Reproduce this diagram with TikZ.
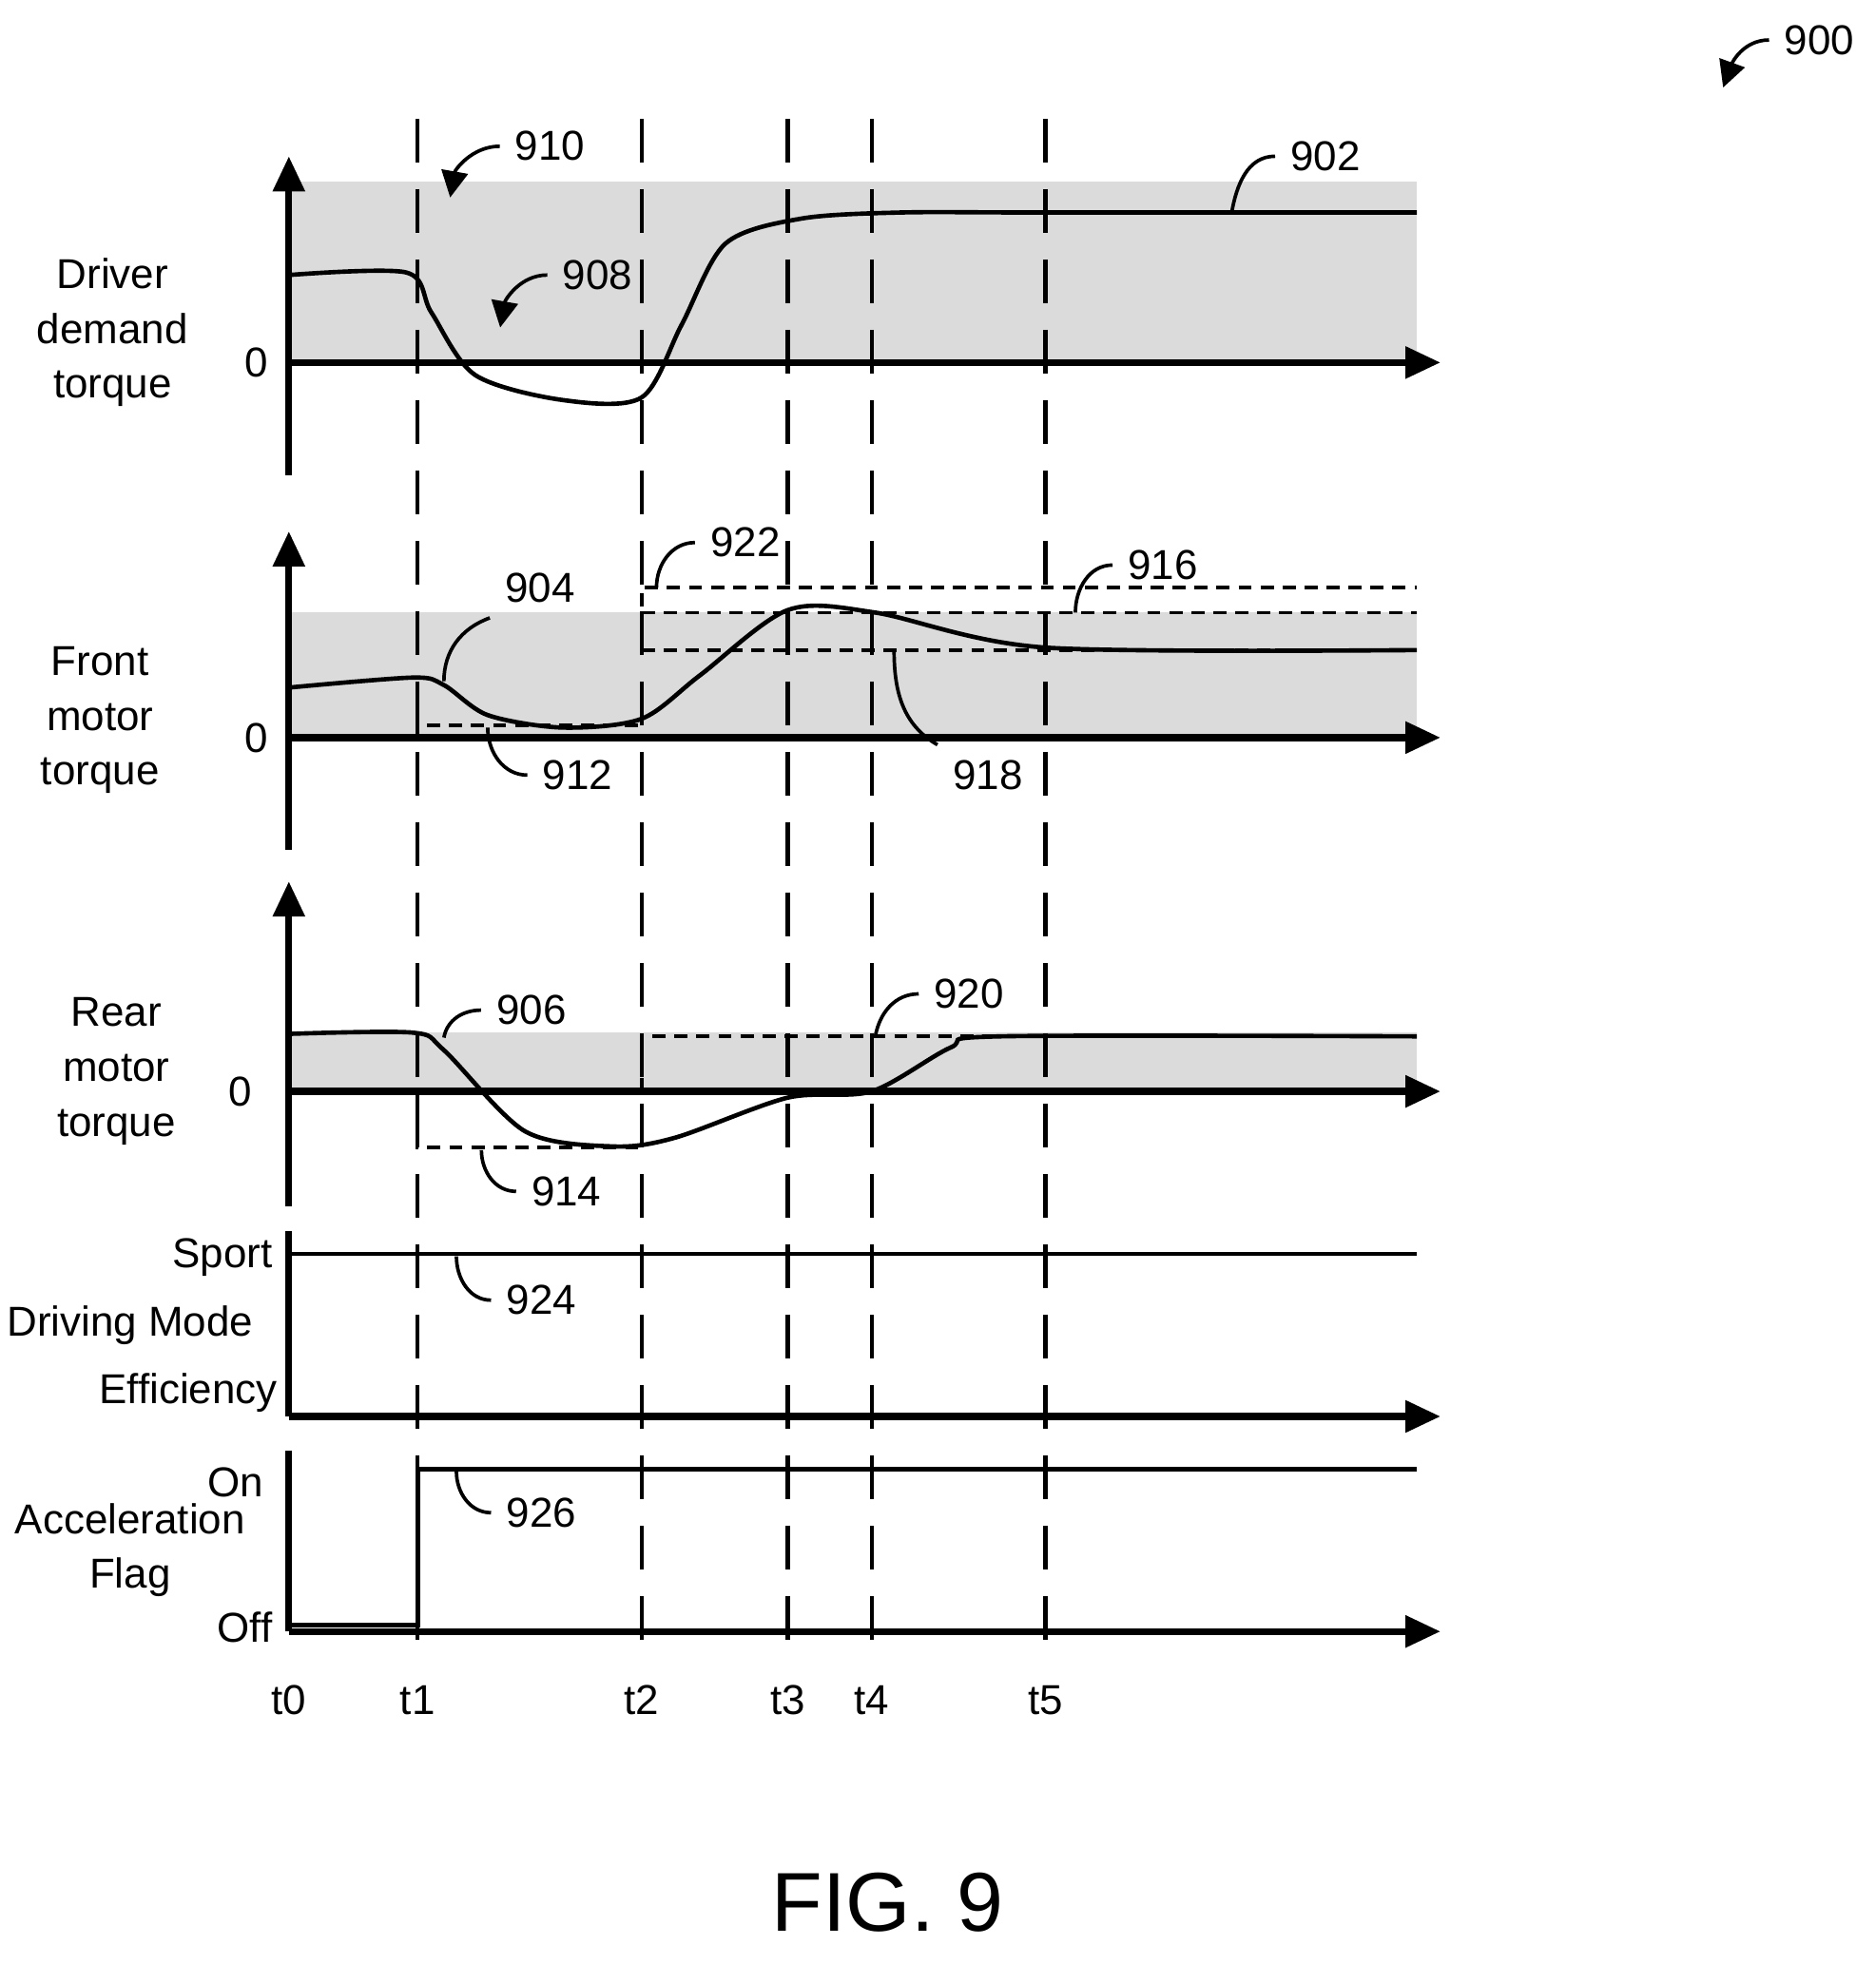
\documentclass[tikz,border=0pt]{standalone}
\usepackage{fontspec}
\setmainfont{Liberation Sans}
\usetikzlibrary{arrows.meta}
\begin{document}
\begin{tikzpicture}[x=0.01cm,y=-0.01cm,
  ax/.style={line width=1.6pt,-{Triangle[length=8pt,width=7pt]}},
  band/.style={fill=black!14},
  sig/.style={line width=1pt},
  lim/.style={densely dashed,line width=0.8pt},
  tline/.style={dashed,line width=0.9pt,dash pattern=on 10pt off 6pt},
  lead/.style={line width=0.8pt},
  lbl/.style={font=\fontsize{9.5}{12.5}\selectfont,align=center,inner sep=1pt},
  ref/.style={font=\fontsize{9.5}{12}\selectfont}]
  \useasboundingbox (0,0) rectangle (1500,1571);

  % shaded bands
  \fill[band] (231,145) rectangle (1133,290);
  \fill[band] (231,490) rectangle (1133,590);
  \fill[band] (231,826) rectangle (1133,873);

  % time markers
  \foreach \x/\t in {231/t0,334/t1,513/t2,630/t3,697/t4,836/t5}
    \node[lbl] (\t) at (\x,1360) {\t};
  \foreach \x in {334,513,630,697,836}
    \draw[tline] (\x,95) -- (\x,1320);

  % axes
  \draw[ax] (231,380) -- (231,125);
  \draw[ax] (231,290) -- (1152,290);
  \draw[ax] (231,680) -- (231,425);
  \draw[ax] (231,590) -- (1152,590);
  \draw[ax] (231,965) -- (231,705);
  \draw[ax] (231,873) -- (1152,873);
  \draw[line width=1.6pt] (231,985) -- (231,1133);
  \draw[ax] (231,1133) -- (1152,1133);
  \draw[line width=1.6pt] (231,1160) -- (231,1305);
  \draw[ax] (231,1305) -- (1152,1305);

  % axis labels
  \node[lbl] (ddt) at (90,266) {Driver\\demand\\torque};
  \node[lbl] (z1) at (205,290) {0};
  \node[lbl] (fmt) at (80,576) {Front\\motor\\torque};
  \node[lbl] (z2) at (205,590) {0};
  \node[lbl] (rmt) at (93,857) {Rear\\motor\\torque};
  \node[lbl] (z3) at (192,873) {0};
  \node[lbl,anchor=east] (spt) at (222,1006) {Sport};
  \node[lbl] (dm) at (104,1060) {Driving Mode};
  \node[lbl,anchor=east] (eff) at (226,1114) {Efficiency};
  \node[lbl,anchor=east] (on) at (215,1186) {On};
  \node[lbl] (af) at (104,1240) {Acceleration\\Flag};
  \node[lbl,anchor=east] (off) at (222,1302) {Off};

  % limits
  \draw[lim] (513,520) -- (513,470) -- (1133,470);
  \draw[lim] (513,490) -- (1133,490);
  \draw[lim] (513,520) -- (1133,520);
  \draw[lim] (334,590) -- (334,580) -- (513,580);
  \draw[lim] (513,873) -- (513,829) -- (1133,829);
  \draw[lim] (334,873) -- (334,918) -- (513,918);

  % signals
  \draw[sig] plot[smooth,tension=0.5] coordinates {(231,220) (325,218) (345,250) (380,300)
    (450,320) (513,318) (545,260) (580,195) (640,175) (720,170) (836,170) (1133,170)};
  \draw[sig] plot[smooth,tension=0.5] coordinates {(231,550) (330,542) (355,548) (390,572)
    (450,582) (513,575) (560,540) (630,488) (700,490) (836,518) (1133,520)};
  \draw[sig] plot[smooth,tension=0.5] coordinates {(231,827) (330,826) (355,840) (420,905)
    (490,917) (540,910) (630,878) (697,873) (760,838) (800,829) (1133,829)};
  \draw[sig] (231,1003) -- (1133,1003);
  \draw[sig] (231,1300) -- (334,1300) -- (334,1175) -- (1133,1175);

  % reference numerals
  \node[ref] (n900) at (1455,32) {900};
  \node[ref] (n910) at (440,117) {910};
  \node[ref] (n908) at (478,220) {908};
  \node[ref] (n902) at (1060,125) {902};
  \node[ref] (n904) at (432,470) {904};
  \node[ref] (n912) at (462,620) {912};
  \node[ref] (n922) at (596,434) {922};
  \node[ref] (n916) at (930,452) {916};
  \node[ref] (n918) at (790,620) {918};
  \node[ref] (n906) at (425,808) {906};
  \node[ref] (n920) at (775,795) {920};
  \node[ref] (n914) at (453,953) {914};
  \node[ref] (n924) at (433,1040) {924};
  \node[ref] (n926) at (433,1210) {926};
  \coordinate (p900) at (1378,70);
  \coordinate (p910) at (360,158);
  \coordinate (p908) at (400,262);
  \coordinate (p902) at (985,170);
  \coordinate (p904) at (355,545);
  \coordinate (p912) at (390,582);
  \coordinate (p922) at (525,470);
  \coordinate (p916) at (860,490);
  \coordinate (p918) at (715,520);
  \coordinate (p906) at (355,830);
  \coordinate (p920) at (700,829);
  \coordinate (p914) at (385,920);
  \coordinate (p924) at (365,1005);
  \coordinate (p926) at (365,1177);
  \draw[lead,-{Triangle[length=6pt,width=6pt]}] (n900.west) to[out=180,in=70] (p900);
  \draw[lead,-{Triangle[length=6pt,width=6pt]}] (n910.west) to[out=180,in=80] (p910);
  \draw[lead,-{Triangle[length=6pt,width=6pt]}] (n908.west) to[out=180,in=80] (p908);
  \draw[lead] (n902.west) to[out=180,in=80] (p902);
  \draw[lead] (n904.south west) to[out=200,in=90] (p904);
  \draw[lead] (n912.west) to[out=180,in=-90] (p912);
  \draw[lead] (n922.west) to[out=180,in=90] (p922);
  \draw[lead] (n916.west) to[out=180,in=90] (p916);
  \draw[lead] (n918.north west) to[out=150,in=-90] (p918);
  \draw[lead] (n906.west) to[out=180,in=80] (p906);
  \draw[lead] (n920.west) to[out=180,in=80] (p920);
  \draw[lead] (n914.west) to[out=180,in=-90] (p914);
  \draw[lead] (n924.west) to[out=180,in=-90] (p924);
  \draw[lead] (n926.west) to[out=180,in=-90] (p926);

  \node[font=\fontsize{19}{22}\selectfont] (fig) at (710,1522) {FIG. 9};
\end{tikzpicture}
\end{document}
